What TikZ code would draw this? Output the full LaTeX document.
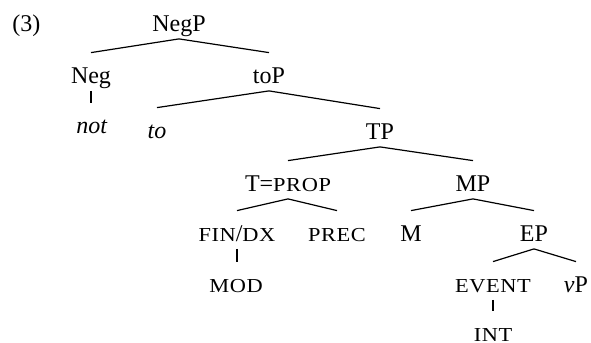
\documentclass[tikz,border=0pt]{standalone}
\usepackage{fontspec}
\setmainfont{Liberation Serif}
\newfontfamily\smcfont[FakeStretch=1.13,LetterSpace=3]{Liberation Serif}
\newcommand{\smc}[1]{{\smcfont\fontsize{9.9}{11}\selectfont #1}}
\tikzset{
  lab/.style={anchor=base,inner sep=0pt,text height=15pt,text depth=3.75pt,font=\fontsize{12}{14}\selectfont},
  br/.style={line width=0.6pt},
  unary/.style={line width=1pt},
}
\begin{document}
\begin{tikzpicture}[x=0.5pt,y=-0.5pt]
\useasboundingbox (0,0) rectangle (591,343);
\node[lab,anchor=base west] (ex) at (12,31) {(3)};
\node[lab] (negp) at (179,31) {NegP};
\node[lab] (neg) at (91,83) {Neg};
\node[lab] (top) at (269,83) {toP};
\node[lab] (not) at (92,133) {\textit{not}};
\node[lab] (to) at (157,138) {\textit{to}};
\node[lab] (tp) at (380,139) {TP};
\node[lab] (t) at (288,191) {T=\smc{PROP}};
\node[lab] (mp) at (473,191) {MP};
\node[lab] (fin) at (237,241) {\smc{FIN}/\smc{DX}};
\node[lab] (prec) at (337,241) {\smc{PREC}};
\node[lab] (m) at (411,241) {M};
\node[lab] (ep) at (534,241) {EP};
\node[lab] (mod) at (236,292) {\smc{MOD}};
\node[lab] (ev) at (493,292) {\smc{EVENT}};
\node[lab] (vp) at (576,292) {\textit{v}P};
\node[lab] (int) at (493,341) {\smc{INT}};
\draw[br] (negp.south) -- (neg.north);
\draw[br] (negp.south) -- (top.north);
\draw[unary] (neg.south) -- (neg.south |- not.north);
\draw[br] (top.south) -- (to.north);
\draw[br] (top.south) -- (tp.north);
\draw[br] (tp.south) -- (t.north);
\draw[br] (tp.south) -- (mp.north);
\draw[br] (t.south) -- (fin.north);
\draw[br] (t.south) -- (prec.north);
\draw[br] (mp.south) -- (m.north);
\draw[br] (mp.south) -- (ep.north);
\draw[unary] (fin.south) -- (fin.south |- mod.north);
\draw[br] (ep.south) -- (ev.north);
\draw[br] (ep.south) -- (vp.north);
\draw[unary] (ev.south) -- (ev.south |- int.north);
\end{tikzpicture}
\end{document}
